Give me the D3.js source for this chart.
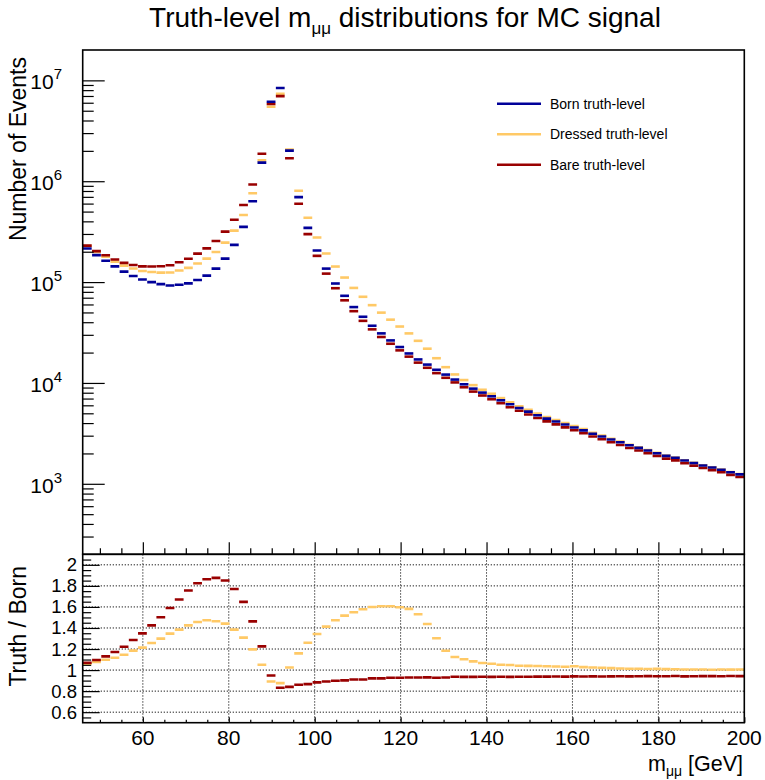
<!DOCTYPE html>
<html>
<head>
<meta charset="utf-8">
<script src="https://cdn.jsdelivr.net/npm/d3@7"></script>
<style>
  body { margin: 0; background: #fff; }
  svg { display: block; }
  text { font-family: "Liberation Sans", Arial, Helvetica, sans-serif; fill: #000; }
</style>
</head>
<body>
<svg id="chart" width="765" height="780"></svg>
<script>
// Histogram binning of the dimuon invariant mass (GeV)
const massRange = [46, 200];
const nBins = 72;

// Truth-level event counts per bin
const born = [
  215000, 185000, 163000, 143000, 127000, 115000, 106000, 100000, 95500, 92500,
  94000, 97000, 105000, 116000, 136000, 171000, 234000, 353000, 634000, 1530000,
  6140000, 8390000, 2010000, 695000, 345000, 206000, 136000, 96800, 73100, 56500,
  45300, 36900, 31000, 26400, 22700, 19600, 17100, 15200, 13500, 12100,
  10800, 9690, 8780, 8020, 7370, 6730, 6140, 5650, 5200, 4780,
  4430, 4140, 3870, 3610, 3390, 3130, 2940, 2750, 2580, 2410,
  2270, 2140, 2010, 1890, 1810, 1700, 1610, 1520, 1450, 1380,
  1300, 1240
];
const dressed = [
  227900, 199100, 179000, 159700, 145500, 136200, 128600, 125700, 124000, 124500,
  130100, 138200, 153000, 170900, 199000, 246400, 323900, 461700, 758900, 1608000,
  5477000, 7350000, 2060000, 805500, 434700, 276700, 192200, 142600, 110900, 87520,
  71480, 59040, 49790, 42400, 36250, 30990, 26160, 21860, 17580, 14330,
  12140, 10680, 9509, 8557, 7812, 7073, 6435, 5882, 5408, 4962,
  4589, 4281, 3994, 3740, 3485, 3208, 3005, 2800, 2619, 2439,
  2297, 2161, 2032, 1907, 1824, 1710, 1618, 1528, 1454, 1387,
  1305, 1247
];
const bare = [
  230100, 202600, 184200, 167500, 155200, 147900, 143000, 142500, 143400, 147100,
  157000, 170300, 191600, 216100, 255100, 316500, 414400, 581700, 927500, 1874000,
  5827000, 6980000, 1690000, 597700, 299100, 181900, 121300, 86930, 65940, 51470,
  41270, 33980, 28550, 24470, 21040, 18230, 15900, 14140, 12510, 11250,
  10120, 9060, 8209, 7507, 6891, 6299, 5741, 5294, 4872, 4484,
  4155, 3887, 3630, 3393, 3183, 2942, 2761, 2585, 2428, 2265,
  2136, 2016, 1893, 1778, 1707, 1598, 1515, 1432, 1367, 1300,
  1226, 1169
];

const seriesNames = ["Born truth-level", "Dressed truth-level", "Bare truth-level"];
const seriesColors = ["#000099", "#ffc966", "#990000"];

// Axis ticks
const xMajorTicks = [60, 80, 100, 120, 140, 160, 180, 200];
const countDecades = [3, 4, 5, 6, 7];
const ratioTicks = [0.6, 0.8, 1, 1.2, 1.4, 1.6, 1.8, 2];
const ratioTickLabels = ["0.6", "0.8", "1", "1.2", "1.4", "1.6", "1.8", "2"];

// Layout
const L = 82.7, R = 744.3;
const topY0 = 50, split = 554.3, botY1 = 722.7;

const svg = d3.select("#chart");

const x = d3.scaleLinear().domain(massRange).range([L, R]);
const yTop = d3.scaleLog().domain([200, 2e7]).range([split, topY0]);
const yRatio = d3.scaleLinear().domain([0.5, 2.1]).range([botY1, split]);

const binW = (massRange[1] - massRange[0]) / nBins;
const edges = d3.range(nBins).map(i => [massRange[0] + i * binW, massRange[0] + (i + 1) * binW]);

const hists = [born, dressed, bare];
const ratios = [dressed.map((v, i) => v / born[i]), bare.map((v, i) => v / born[i])];

function stripDomain(g) { g.select(".domain").remove(); g.selectAll(".tick line").attr("stroke", "#000").attr("stroke-width", 1.2); }

// ---------- upper pad ----------
svg.append("clipPath").attr("id", "clipTop")
  .append("rect").attr("x", L).attr("y", topY0).attr("width", R - L).attr("height", split - topY0);

const topG = svg.append("g").attr("clip-path", "url(#clipTop)");
// drawing order: dressed, bare, born on top
[1, 2, 0].forEach(s => {
  const vals = hists[s];
  topG.append("g").selectAll("line").data(edges).join("line")
    .attr("x1", d => x(d[0]) + 0.2)
    .attr("x2", d => x(d[1]) - 0.2)
    .attr("y1", (d, i) => yTop(vals[i]))
    .attr("y2", (d, i) => yTop(vals[i]))
    .attr("stroke", seriesColors[s])
    .attr("stroke-width", 2.6);
});

// y-axis ticks (log)
const minorCount = [];
countDecades.concat([2]).forEach(d => {
  for (let m = 2; m <= 9; m++) {
    const v = m * Math.pow(10, d);
    if (v > 200 && v < 2e7) minorCount.push(v);
  }
});
svg.append("g").attr("transform", `translate(${L},0)`)
  .call(d3.axisLeft(yTop).tickValues(countDecades.map(d => Math.pow(10, d))).tickSizeInner(-22).tickSizeOuter(0).tickFormat(""))
  .call(stripDomain);
svg.append("g").attr("transform", `translate(${L},0)`)
  .call(d3.axisLeft(yTop).tickValues(minorCount).tickSizeInner(-11).tickSizeOuter(0).tickFormat(""))
  .call(stripDomain);

// y labels 10^n
const yLab = svg.append("g").selectAll("text").data(countDecades).join("text")
  .attr("text-anchor", "end")
  .attr("x", 62)
  .attr("y", d => yTop(Math.pow(10, d)) + 9)
  .style("font-size", "21px");
yLab.append("tspan").text("10");
yLab.append("tspan").attr("dy", -10).style("font-size", "15px").text(d => d);

// x ticks at bottom of upper pad
const xMinor = d3.range(50, 200, 5).filter(v => !xMajorTicks.includes(v));
svg.append("g").attr("transform", `translate(0,${split})`)
  .call(d3.axisBottom(x).tickValues(xMajorTicks.filter(v => v < 200)).tickSizeInner(-12).tickSizeOuter(0).tickFormat(""))
  .call(stripDomain);
svg.append("g").attr("transform", `translate(0,${split})`)
  .call(d3.axisBottom(x).tickValues(xMinor).tickSizeInner(-6).tickSizeOuter(0).tickFormat(""))
  .call(stripDomain);

svg.append("rect").attr("x", L).attr("y", topY0).attr("width", R - L).attr("height", split - topY0)
  .attr("fill", "none").attr("stroke", "#000").attr("stroke-width", 1.6);

// legend
const leg = svg.append("g");
[0, 1, 2].forEach(s => {
  const ly = 103.7 + s * 30.5;
  leg.append("line").attr("x1", 497).attr("x2", 541).attr("y1", ly).attr("y2", ly)
    .attr("stroke", seriesColors[s]).attr("stroke-width", 2.6);
  leg.append("text").attr("x", 550).attr("y", ly + 5).style("font-size", "14px").text(seriesNames[s]);
});

// ---------- ratio pad ----------
const grid = svg.append("g").attr("stroke", "#222").attr("stroke-width", 1).attr("stroke-dasharray", "1.3,1.7");
grid.selectAll("line.v").data(xMajorTicks.filter(v => v < 200)).join("line")
  .attr("x1", d => x(d)).attr("x2", d => x(d)).attr("y1", split).attr("y2", botY1);
grid.selectAll("line.h").data(ratioTicks).join("line")
  .attr("x1", L).attr("x2", R).attr("y1", d => yRatio(d)).attr("y2", d => yRatio(d));

svg.append("clipPath").attr("id", "clipBot")
  .append("rect").attr("x", L).attr("y", split).attr("width", R - L).attr("height", botY1 - split);
const botG = svg.append("g").attr("clip-path", "url(#clipBot)");
[0, 1].forEach(k => {
  const vals = ratios[k];
  botG.append("g").selectAll("line").data(edges).join("line")
    .attr("x1", d => x(d[0]) + 0.2)
    .attr("x2", d => x(d[1]) - 0.2)
    .attr("y1", (d, i) => yRatio(vals[i]))
    .attr("y2", (d, i) => yRatio(vals[i]))
    .attr("stroke", seriesColors[k + 1])
    .attr("stroke-width", 2.6);
});

// ratio y ticks
const ratioMinor = d3.range(0.55, 2.1, 0.05).map(v => +v.toFixed(2)).filter(v => !ratioTicks.some(t => Math.abs(t - v) < 1e-6));
svg.append("g").attr("transform", `translate(${L},0)`)
  .call(d3.axisLeft(yRatio).tickValues(ratioTicks).tickSizeInner(-17).tickSizeOuter(0).tickFormat(""))
  .call(stripDomain);
svg.append("g").attr("transform", `translate(${L},0)`)
  .call(d3.axisLeft(yRatio).tickValues(ratioMinor).tickSizeInner(-8.5).tickSizeOuter(0).tickFormat(""))
  .call(stripDomain);
svg.append("g").selectAll("text").data(ratioTicks).join("text")
  .attr("text-anchor", "end").attr("x", 77).attr("y", d => yRatio(d) + 6.5)
  .style("font-size", "18.5px")
  .text((d, i) => ratioTickLabels[i]);

// ratio x ticks
svg.append("g").attr("transform", `translate(0,${botY1})`)
  .call(d3.axisBottom(x).tickValues(xMajorTicks).tickSizeInner(-5.5).tickSizeOuter(0).tickFormat(""))
  .call(stripDomain);
svg.append("g").attr("transform", `translate(0,${botY1})`)
  .call(d3.axisBottom(x).tickValues(xMinor).tickSizeInner(-3).tickSizeOuter(0).tickFormat(""))
  .call(stripDomain);
svg.append("g").selectAll("text").data(xMajorTicks).join("text")
  .attr("text-anchor", "middle").attr("x", d => x(d)).attr("y", 745)
  .style("font-size", "21px")
  .text(d => d);

svg.append("rect").attr("x", L).attr("y", split).attr("width", R - L).attr("height", botY1 - split)
  .attr("fill", "none").attr("stroke", "#000").attr("stroke-width", 1.6);

// ---------- titles ----------
const title = svg.append("text").attr("x", 405).attr("y", 27).attr("text-anchor", "middle").style("font-size", "28px");
title.append("tspan").text("Truth-level m");
title.append("tspan").attr("dy", 7).style("font-size", "17px").text("μμ");
title.append("tspan").attr("dy", -7).text(" distributions for MC signal");

const xt = svg.append("text").attr("x", 743).attr("y", 771).attr("text-anchor", "end").style("font-size", "21.5px");
xt.append("tspan").text("m");
xt.append("tspan").attr("dy", 5).style("font-size", "14px").text("μμ");
xt.append("tspan").attr("dy", -5).text(" [GeV]");

svg.append("text").attr("transform", `translate(26,57) rotate(-90)`).attr("text-anchor", "end")
  .style("font-size", "23px").text("Number of Events");
svg.append("text").attr("transform", `translate(26,566) rotate(-90)`).attr("text-anchor", "end")
  .style("font-size", "23px").text("Truth / Born");
</script>
</body>
</html>
